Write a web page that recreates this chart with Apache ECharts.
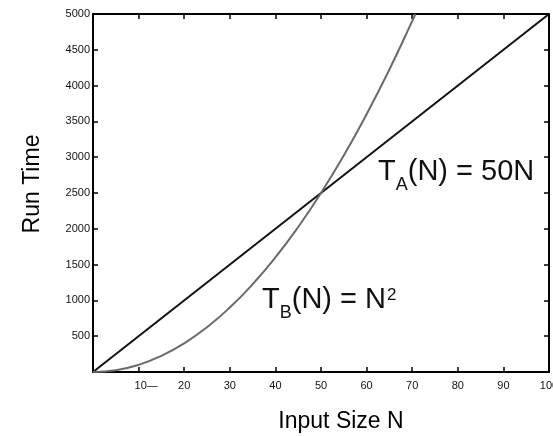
<!DOCTYPE html>
<html>
<head>
<meta charset="utf-8">
<script src="https://cdn.jsdelivr.net/npm/echarts@6/dist/echarts.min.js"></script>
<style>
  html, body { margin: 0; padding: 0; background: #fff; }
  #chart { width: 553px; height: 436px; }
</style>
</head>
<body>
<div id="chart"></div>
<script>
// values
var linearN = [0, 100];
var linearT = [0, 5000];
var quadN = [0, 5, 10, 15, 20, 25, 30, 35, 40, 45, 50, 55, 60, 65, 70, 70.7];
var quadT = [0, 25, 100, 225, 400, 625, 900, 1225, 1600, 2025, 2500, 3025, 3600, 4225, 4900, 5000];
var xTicks = [10, 20, 30, 40, 50, 60, 70, 80, 90, 100];
var yTicks = [500, 1000, 1500, 2000, 2500, 3000, 3500, 4000, 4500, 5000];

var pairs = function (xs, ys) {
  return xs.map(function (x, i) { return [x, ys[i]]; });
};

var font = 'Liberation Sans, Arial, sans-serif';

var axisLine = { show: true, onZero: false, lineStyle: { color: '#000', width: 2 } };
var axisTick = { show: true, inside: true, length: 5, lineStyle: { color: '#000', width: 1.5 } };

var chart = echarts.init(document.getElementById('chart'));
chart.setOption({
  animation: false,
  backgroundColor: '#fff',
  grid: { left: 93, right: 4, top: 14, bottom: 64, outerBoundsMode: 'none', containLabel: false },
  xAxis: [{
    type: 'value', min: 0, max: 100, interval: 10,
    axisLine: axisLine, axisTick: axisTick, splitLine: { show: false },
    axisLabel: {
      color: '#111', fontSize: 11, fontFamily: font, margin: 8, showMinLabel: false,
      hideOverlap: false,
      formatter: function (v) {
        if (xTicks.indexOf(v) < 0) return '';
        return v === 10 ? '     10—' : String(v);
      }
    },
    name: 'Input Size N', nameLocation: 'middle', nameGap: 38,
    nameTextStyle: { color: '#000', fontSize: 23, fontFamily: font, padding: [0, 0, 0, 40] }
  }, {
    type: 'value', position: 'top', min: 0, max: 100, interval: 10,
    axisLine: axisLine, axisTick: axisTick, axisLabel: { show: false }, splitLine: { show: false }
  }],
  yAxis: [{
    type: 'value', min: 0, max: 5000, interval: 500,
    axisLine: axisLine, axisTick: axisTick, splitLine: { show: false },
    axisLabel: {
      color: '#111', fontSize: 11, fontFamily: font, margin: 3, showMinLabel: false,
      formatter: function (v) { return yTicks.indexOf(v) < 0 ? '' : String(v); }
    },
    name: 'Run Time', nameLocation: 'middle', nameGap: 49,
    nameTextStyle: { color: '#000', fontSize: 23, fontFamily: font, padding: [0, 0, 0, 18] }
  }, {
    type: 'value', position: 'right', min: 0, max: 5000, interval: 500,
    axisLine: axisLine, axisTick: axisTick, axisLabel: { show: false }, splitLine: { show: false }
  }],
  series: [{
    name: 'TA', type: 'line', data: pairs(linearN, linearT),
    symbol: 'none', lineStyle: { color: '#111', width: 2 }
  }, {
    name: 'TB', type: 'line', data: pairs(quadN, quadT), smooth: true,
    symbol: 'none', lineStyle: { color: '#6a6a6a', width: 2 }
  }],
  graphic: [{
    type: 'text', left: 378, top: 157,
    style: {
      text: '{m|T}{s|A}{m|(N) = 50N}',
      fill: '#111',
      rich: {
        m: { fontSize: 29, fontFamily: font, lineHeight: 30, verticalAlign: 'top' },
        s: { fontSize: 18, fontFamily: font, lineHeight: 18, verticalAlign: 'bottom', padding: [0, 0, -7, 0] }
      }
    }
  }, {
    type: 'text', left: 262, top: 285,
    style: {
      text: '{m|T}{s|B}{m|(N) = N}{p|2}',
      fill: '#111',
      rich: {
        m: { fontSize: 29, fontFamily: font, lineHeight: 30, verticalAlign: 'top' },
        s: { fontSize: 18, fontFamily: font, lineHeight: 18, verticalAlign: 'bottom', padding: [0, 0, -7, 0] },
        p: { fontSize: 17, fontFamily: font, lineHeight: 18, verticalAlign: 'top', padding: [2, 0, 0, 1] }
      }
    }
  }]
});
</script>
</body>
</html>
